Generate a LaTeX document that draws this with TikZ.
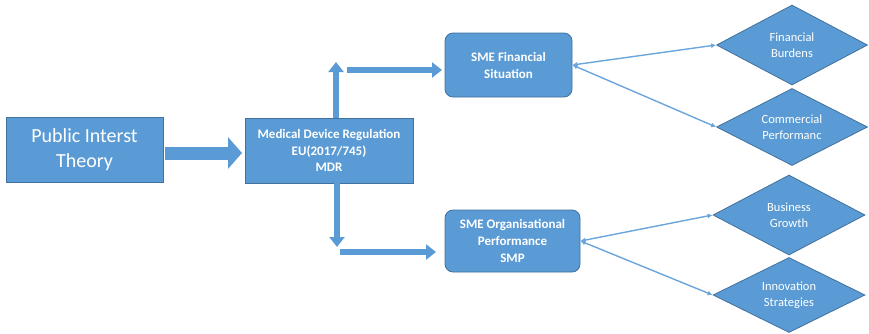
\documentclass[tikz,border=0pt]{standalone}
\usepackage{fontspec}
\setmainfont{Carlito}
\usetikzlibrary{arrows.meta,shapes.geometric}
\definecolor{boxblue}{HTML}{5B9BD5}
\definecolor{edgeblue}{HTML}{41719C}
\definecolor{linkblue}{HTML}{6AA5DB}
\tikzset{
  blockbox/.style={draw=edgeblue, line width=0.8pt, fill=boxblue, text=white,
    align=center, inner sep=0pt},
  roundbox/.style={blockbox, rounded corners=8pt, font=\bfseries\fontsize{13}{17}\selectfont},
  diam/.style={draw=edgeblue, line width=0.8pt, fill=boxblue, text=white, diamond,
    aspect=2, inner sep=0pt, align=center, font=\fontsize{12.5}{16}\selectfont},
  bigarrow/.style={boxblue, line width=13pt, -{Triangle[length=14pt,width=31pt]}},
  smallarrow/.style={boxblue, line width=6.5pt, -{Triangle[length=10pt,width=15pt]}},
  link/.style={linkblue, line width=1.4pt, {Latex[length=5pt,width=5pt]}-{Latex[length=5pt,width=5pt]}}
}
\begin{document}
\begin{tikzpicture}[x=1pt,y=-1pt]
\useasboundingbox (0,0) rectangle (869,333);

% left boxes
\node[blockbox, minimum width=157pt, minimum height=65pt,
      font=\fontsize{20}{25}\selectfont] (pit) at (84.5,149.5) {Public Interst\\Theory};
\node[blockbox, minimum width=168pt, minimum height=65pt,
      font=\bfseries\fontsize{13}{16.5}\selectfont] (mdr) at (329,150.5)
      {Medical Device Regulation\\EU(2017/745)\\MDR};

% middle rounded boxes
\node[roundbox, minimum width=127pt, minimum height=64pt] (sfs) at (508.5,65)
      {SME Financial\\Situation};
\node[roundbox, minimum width=135pt, minimum height=62pt] (smp) at (512.5,241)
      {SME Organisational\\Performance\\SMP};

% outcome diamonds
\node[diam, minimum width=151pt, minimum height=80pt] (fb) at (792,45) {Financial\\Burdens};
\node[diam, minimum width=151pt, minimum height=77pt] (cp) at (792,127) {Commercial\\Performanc};
\node[diam, minimum width=152pt, minimum height=80pt] (bg) at (789,215) {Business\\Growth};
\node[diam, minimum width=152pt, minimum height=75pt] (is) at (789,295) {Innovation\\Strategies};

% block arrows
\coordinate (pitOut) at (165,153);
\coordinate (mdrIn) at (242,153);
\draw[bigarrow] (pitOut) -- (mdrIn);

\coordinate (upTip) at (336,62);
\draw[smallarrow] (mdr.north -| upTip) -- (upTip);
\coordinate (finFrom) at (347,70);
\coordinate (finTo) at (442,70);
\draw[smallarrow] (finFrom) -- (finTo);

\coordinate (downTip) at (337,247);
\draw[smallarrow] (mdr.south -| downTip) -- (downTip);
\coordinate (orgFrom) at (340,252);
\coordinate (orgTo) at (436,252);
\draw[smallarrow] (orgFrom) -- (orgTo);

% two-way links to outcomes
\draw[link] (sfs.east) -- (fb.west);
\draw[link] (sfs.east) -- (cp.west);
\draw[link] (smp.east) -- (bg.west);
\draw[link] (smp.east) -- (is.west);
\end{tikzpicture}
\end{document}
